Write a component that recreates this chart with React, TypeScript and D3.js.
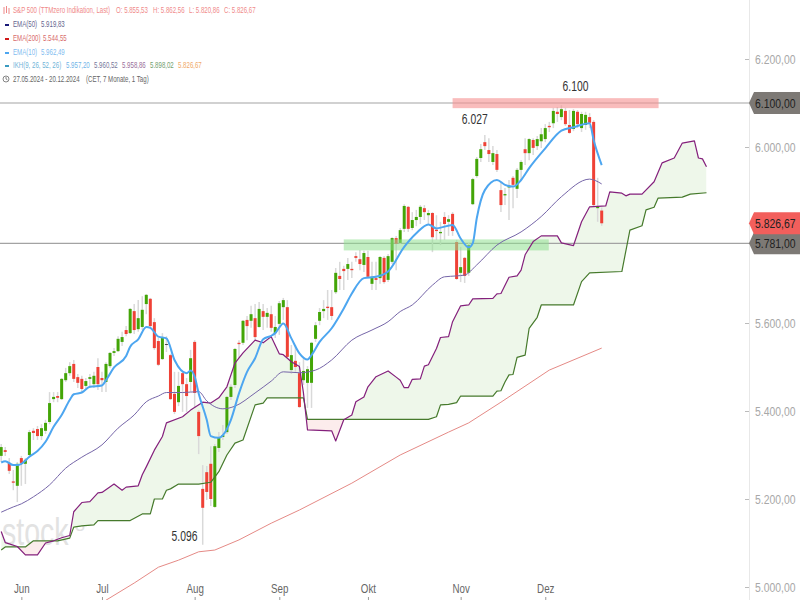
import { useEffect, useRef } from 'react';
import * as d3 from 'd3';

const opens = [5298,5311,5282,5240,5230,5293,5280,5300,5355,5359,5343,5355,5375,5427,5434,5427,5470,5486,5507,5477,5473,5457,5473,5461,5500,5475,5466,5502,5532,5536,5557,5584,5577,5627,5586,5591,5643,5655,5602,5559,5518,5552,5527,5439,5420,5486,5461,5466,5557,5398,5223,5261,5280,5182,5316,5341,5352,5432,5459,5555,5555,5607,5605,5611,5591,5627,5614,5620,5577,5598,5636,5636,5493,5514,5486,5470,5464,5464,5564,5605,5627,5637,5636,5670,5707,5723,5723,5723,5752,5745,5732,5750,5689,5702,5702,5748,5698,5739,5793,5782,5814,5864,5816,5834,5841,5861,5845,5850,5812,5804,5841,5830,5848,5784,5714,5748,5714,5870,5934,5975,6011,5993,5966,5984,5902,5890,5908,5930,5905,5948,5995,5986,6016,6002,6013,6018,6048,6054,6080,6068,6082,6050,6041,6080,6043,6050,6068,6057,5861,5855.53];
const closes = [5318,5307,5264,5237,5280,5282,5289,5352,5350,5343,5361,5373,5418,5432,5430,5473,5486,5502,5473,5464,5450,5468,5477,5480,5461,5470,5507,5532,5536,5564,5568,5575,5632,5584,5611,5630,5664,5593,5543,5505,5566,5550,5427,5398,5457,5461,5434,5520,5441,5343,5180,5216,5200,5320,5339,5345,5432,5455,5541,5552,5605,5593,5620,5568,5632,5614,5623,5589,5591,5645,5652,5523,5527,5500,5409,5491,5495,5555,5595,5625,5632,5634,5616,5714,5700,5718,5734,5720,5748,5734,5759,5705,5705,5698,5750,5693,5752,5793,5780,5811,5866,5814,5834,5841,5864,5852,5850,5795,5809,5807,5825,5836,5809,5700,5727,5707,5777,5927,5973,5995,6002,5984,5986,5948,5868,5893,5911,5914,5948,5966,5986,6018,5998,6018,6029,6043,6045,6082,6075,6086,6052,6032,6082,6052,6075,6073,6055,5868,5864,5826.67];
const highs = [5325,5318,5293,5266,5284,5298,5293,5357,5361,5366,5370,5380,5443,5443,5443,5475,5498,5511,5516,5484,5480,5475,5484,5489,5520,5489,5511,5534,5543,5570,5580,5593,5634,5643,5652,5661,5666,5657,5611,5566,5577,5570,5530,5489,5489,5489,5475,5539,5561,5402,5277,5275,5320,5325,5352,5368,5434,5461,5543,5561,5607,5616,5639,5643,5648,5643,5634,5639,5616,5650,5657,5652,5550,5550,5511,5520,5502,5557,5602,5634,5652,5675,5675,5725,5739,5730,5748,5739,5761,5766,5764,5764,5739,5739,5752,5752,5757,5795,5798,5816,5870,5866,5852,5857,5868,5868,5857,5852,5845,5830,5852,5845,5852,5789,5773,5750,5782,5930,5977,6007,6027,6020,6002,5993,5920,5907,5925,5934,5952,5970,6020,6020,6020,6025,6043,6052,6057,6089,6091,6095,6089,6084,6086,6084,6080,6080,6077,6061,5930,5862.56];
const lows = [5284,5298,5257,5220,5193,5230,5234,5298,5334,5334,5334,5348,5370,5420,5420,5425,5466,5480,5466,5452,5443,5448,5452,5452,5448,5443,5443,5498,5525,5534,5548,5570,5575,5575,5580,5584,5620,5589,5539,5502,5516,5534,5425,5393,5411,5398,5398,5443,5407,5302,5096,5198,5184,5180,5307,5334,5348,5425,5452,5520,5550,5561,5589,5561,5589,5584,5589,5580,5566,5573,5607,5520,5484,5489,5407,5459,5407,5407,5557,5595,5611,5607,5607,5666,5675,5675,5698,5702,5739,5720,5716,5702,5675,5675,5689,5689,5693,5734,5720,5780,5807,5807,5811,5820,5825,5834,5823,5761,5789,5777,5789,5798,5798,5698,5693,5691,5707,5868,5930,5966,5993,5966,5959,5943,5852,5868,5834,5861,5884,5925,5959,5970,5982,5993,5998,6011,6034,6043,6057,6061,6048,6030,6036,6043,6034,6039,6043,5866,5830,5820.86];

const ema10: [number, number][] = [[0,5283],[1,5286],[3,5277],[4,5277],[5,5280],[7,5296],[9,5309],[11,5330],[13,5364],[15,5391],[17,5425],[18,5438],[20,5442],[22,5455],[25,5458],[26,5470],[28,5499],[31,5525],[32,5546],[34,5563],[36,5591],[37,5589],[39,5569],[41,5565],[43,5516],[46,5486],[47,5492],[48,5478],[49,5440],[51,5380],[52,5343],[54,5339],[55,5345],[57,5380],[59,5440],[61,5489],[63,5520],[65,5563],[67,5571],[68,5577],[70,5599],[72,5565],[74,5531],[76,5517],[77,5527],[79,5557],[82,5588],[85,5633],[87,5667],[90,5702],[93,5705],[96,5717],[100,5773],[103,5804],[106,5824],[108,5815],[112,5823],[114,5792],[116,5772],[117,5781],[118,5838],[120,5902],[123,5925],[125,5914],[127,5910],[129,5925],[131,5952],[135,5997],[139,6037],[142,6045],[146,6054],[147,6016],[149,5959]];
const ema50: [number, number][] = [[0,5170],[3,5182],[5,5189],[8,5205],[12,5232],[16,5270],[20,5295],[25,5323],[29,5361],[33,5391],[36,5421],[39,5434],[41,5442],[45,5442],[49,5444],[51,5423],[55,5405],[58,5411],[63,5441],[67,5468],[70,5489],[74,5487],[78,5493],[82,5516],[87,5561],[92,5584],[96,5603],[99,5626],[102,5641],[107,5686],[110,5705],[113,5707],[115,5709],[118,5732],[123,5777],[129,5807],[134,5842],[139,5887],[146,5927],[149,5916]];
const ema200: [number, number][] = [[26,4970],[33,5009],[39,5045],[44,5061],[49,5080],[53,5084],[59,5107],[67,5145],[74,5175],[87,5236],[99,5300],[111,5352],[116,5373],[124,5420],[136,5493],[149,5543]];
const spanA: [number, number][] = [[0,5126],[1,5101],[2,5098],[4,5092],[6,5073],[9,5073],[11,5100],[13,5105],[15,5112],[17,5117],[18,5171],[20,5192],[22,5194],[24,5214],[25,5215],[28,5234],[30,5220],[31,5227],[34,5230],[35,5255],[36,5273],[38,5311],[40,5342],[41,5373],[45,5387],[47,5402],[50,5420],[52,5418],[54,5430],[56,5455],[58,5509],[60,5532],[63,5561],[65,5555],[67,5569],[69,5530],[70,5528],[72,5512],[74,5501],[75,5441],[76,5357],[82,5355],[83,5332],[85,5380],[87,5391],[88,5421],[90,5432],[91,5455],[93,5478],[96,5491],[98,5477],[99,5470],[100,5453],[101,5453],[102,5472],[104,5473],[105,5502],[106,5505],[108,5542],[109,5567],[111,5569],[112,5603],[114,5639],[116,5641],[117,5655],[122,5656],[123,5666],[124,5667],[126,5704],[128,5707],[129,5720],[130,5755],[132,5785],[134,5798],[138,5798],[139,5782],[142,5776],[144,5830],[146,5864],[150,5866],[151,5898],[154,5895],[155,5889],[156,5893],[159,5893],[162,5921],[164,5964],[167,5975],[169,6009],[172,6014],[173,5975],[174,5973],[175,5955]];
const spanB: [number, number][] = [[0,5084],[1,5091],[6,5091],[8,5105],[14,5105],[17,5111],[18,5136],[20,5139],[23,5141],[24,5151],[32,5151],[35,5166],[37,5166],[38,5200],[40,5200],[41,5220],[42,5223],[44,5234],[49,5234],[52,5238],[54,5262],[56,5300],[58,5327],[60,5334],[63,5414],[65,5418],[66,5430],[75,5430],[76,5381],[106,5381],[108,5387],[109,5414],[111,5415],[113,5419],[114,5434],[122,5434],[123,5445],[124,5446],[125,5466],[126,5482],[127,5483],[128,5522],[130,5527],[131,5588],[133,5613],[134,5641],[142,5641],[144,5694],[146,5714],[154,5717],[156,5811],[159,5821],[160,5857],[162,5863],[163,5884],[169,5886],[171,5893],[175,5896]];

const priceTicks = [5000, 5200, 5400, 5600, 6000, 6200];
const monthBars = [5, 25, 48, 69, 91, 114, 135];
const monthLabels = ['Jun', 'Jul', 'Aug', 'Sep', 'Okt', 'Nov', 'Dez'];
const levels = [6100, 5781];
const lastPrice = 5826.67;
const notes: [number, number, string][] = [[142.5, 6127, '6.100'], [117.5, 6052, '6.027'], [45.5, 5104, '5.096']];

const legendRows: [number, number, string, string][] = [
    [13, 13, 'S&P 500 (TTMzero Indikation, Last)', '#f08a8a'],
    [116, 13, 'O: 5.855,53', '#f08a8a'],
    [153, 13, 'H: 5.862,56', '#f08a8a'],
    [189, 13, 'L: 5.820,86', '#f08a8a'],
    [224, 13, 'C: 5.826,67', '#f08a8a'],
    [13, 27, 'EMA(50)', '#66668f'],
    [41, 27, '5.919,83', '#66668f'],
    [13, 41, 'EMA(200)', '#d86c6c'],
    [43, 41, '5.544,55', '#d86c6c'],
    [13, 55, 'EMA(10)', '#7fbcf0'],
    [41, 55, '5.962,49', '#7fbcf0'],
    [13, 68, 'IKH(9, 26, 52, 26)', '#6fb4d8'],
    [66, 68, '5.957,20', '#6fb4e8'],
    [94, 68, '5.960,52', '#77779a'],
    [122, 68, '5.958,86', '#9a6f9a'],
    [150, 68, '5.898,02', '#74a070'],
    [178, 68, '5.826,67', '#f0a868'],
    [13, 82, '27.05.2024 - 20.12.2024', '#666'],
    [86, 82, '(CET, 7 Monate, 1 Tag)', '#666'],
];
const swatches: [number, string][] = [[24, '#1a1a78'], [38, '#d01818'], [52, '#4da6f0'], [65, '#3a9ac0']];

const FONT = '"Liberation Sans", Arial, sans-serif';

// the reference is squeezed sideways, so every text gets narrowed around its own x
const squeeze = (sel, ratio = 0.8) => sel.each(function () {
    const tx = +(this.getAttribute('x') || 0);
    this.setAttribute('transform', `translate(${tx},0) scale(${ratio},1) translate(${-tx},0)`);
});

const App = () => {
    const ref = useRef(null);

    useEffect(() => {
        const svg = d3.select(ref.current);
        svg.selectAll('*').remove();

        const x = d3.scaleLinear().domain([0, 149]).range([1.2, 601.7]);
        const y = d3.scaleLinear().domain([5000, 6200]).range([587, 59]);
        const bars = d3.range(opens.length);

        // watermark
        const mark = svg.append('text').attr('x', 2).attr('y', 545).attr('font-family', FONT)
            .attr('font-size', 38).attr('fill', '#e2e2e2').text('stock');
        squeeze(mark, 0.75);
        svg.append('text').attr('x', 75).attr('y', 531).attr('font-family', FONT)
            .attr('font-size', 18).attr('fill', '#e2e2e2').text('3');

        // cloud
        const below = (line) => d3.area().x(d => x(d[0])).y0(600).y1(d => y(d[1]))(line);
        const above = (line) => d3.area().x(d => x(d[0])).y0(0).y1(d => y(d[1]))(line);
        const defs = svg.append('defs');
        defs.append('clipPath').attr('id', 'over-b').append('path').attr('d', above(spanB));
        defs.append('clipPath').attr('id', 'over-a').append('path').attr('d', above(spanA));
        svg.append('path').attr('d', below(spanA)).attr('fill', '#eef7ea').attr('clip-path', 'url(#over-b)');
        svg.append('path').attr('d', below(spanB)).attr('fill', '#fcecec').attr('clip-path', 'url(#over-a)');

        // right axis line and price levels
        svg.append('line').attr('x1', 749.5).attr('x2', 749.5).attr('y1', 0).attr('y2', 600)
            .attr('stroke', '#e8e8e8');
        svg.append('g').selectAll('line').data(levels).enter().append('line')
            .attr('x1', 0).attr('x2', 750).attr('y1', d => y(d)).attr('y2', d => y(d))
            .attr('stroke', '#a3a3a3').attr('stroke-width', 1.2);

        // candles
        const isDoji = i => Math.abs(opens[i] - closes[i]) < 3;
        const barColor = i => isDoji(i) ? '#333' : closes[i] >= opens[i] ? '#43a507' : '#ef4136';
        svg.append('g').selectAll('line').data(bars).enter().append('line')
            .attr('x1', i => x(i)).attr('x2', i => x(i))
            .attr('y1', i => y(highs[i])).attr('y2', i => y(lows[i]))
            .attr('stroke', '#d9d9d9').attr('stroke-width', 1.5);
        svg.append('g').selectAll('rect').data(bars).enter().append('rect')
            .attr('x', i => x(i) - 1.5).attr('width', 3)
            .attr('y', i => y(Math.max(opens[i], closes[i])))
            .attr('height', i => Math.abs(y(opens[i]) - y(closes[i])))
            .attr('fill', barColor);

        // zones
        svg.append('rect').attr('x', x(112)).attr('width', 206).attr('y', y(6111)).attr('height', 10)
            .attr('fill', '#f58f8f').attr('opacity', 0.6);
        svg.append('rect').attr('x', x(85)).attr('width', 205).attr('y', y(5790)).attr('height', 11)
            .attr('fill', '#8fe08f').attr('opacity', 0.55);

        // lines
        const path = d3.line().x(d => x(d[0])).y(d => y(d[1]));
        const smooth = d3.line().x(d => x(d[0])).y(d => y(d[1])).curve(d3.curveMonotoneX);
        const lines: [string, string, number][] = [
            [path(ema200), '#e58a86', 1],
            [path(spanB), '#467a2c', 1.2],
            [path(spanA), '#84207c', 1.2],
            [smooth(ema50), '#7565a8', 1],
            [smooth(ema10), '#4da6f0', 2],
        ];
        lines.forEach(([d, color, w]) => {
            svg.append('path').attr('d', d).attr('fill', 'none').attr('stroke', color)
                .attr('stroke-width', w).attr('stroke-linejoin', 'round');
        });

        // axes
        const num = d3.formatLocale({ decimal: ',', thousands: '.', grouping: [3], currency: ['', ''] }).format(',.2f');
        const yAxis = svg.append('g').attr('transform', 'translate(749,0)')
            .call(d3.axisRight(y).tickValues(priceTicks).tickFormat(num).tickSize(-4).tickPadding(6));
        yAxis.select('.domain').remove();
        yAxis.selectAll('line').attr('stroke', '#bbb');
        yAxis.selectAll('text').attr('font-family', FONT).attr('font-size', 13).attr('fill', '#a8a8a8');
        squeeze(yAxis.selectAll('text'));

        const xAxis = svg.append('g').attr('transform', 'translate(0,600)')
            .call(d3.axisTop(x).tickValues(monthBars).tickFormat((_, i) => monthLabels[i]).tickSize(3).tickPadding(4));
        xAxis.select('.domain').remove();
        xAxis.selectAll('line').attr('stroke', '#999');
        xAxis.selectAll('text').attr('font-family', FONT).attr('font-size', 13).attr('fill', '#666');
        squeeze(xAxis.selectAll('text'), 0.75);

        // price tags
        const tag = (value, fill) => {
            const g = svg.append('g').attr('transform', `translate(749,${y(value)})`);
            g.append('path').attr('d', 'M0,0 L5,-11 H51 V11 H5 Z').attr('fill', fill);
            squeeze(g.append('text').attr('x', 6).attr('y', 5).attr('font-family', FONT)
                .attr('font-size', 13).attr('fill', '#222').text(num(value)));
        };
        tag(levels[0], '#7d7975');
        tag(levels[1], '#7d7975');
        tag(lastPrice, '#f25f5c');

        // notes
        notes.forEach(([bar, price, label]) => {
            squeeze(svg.append('text').attr('x', x(bar)).attr('y', y(price)).attr('text-anchor', 'middle')
                .attr('font-family', FONT).attr('font-size', 15).attr('fill', '#333').text(label), 0.69);
        });

        // legend
        legendRows.forEach(([lx, ly, label, color]) => {
            squeeze(svg.append('text').attr('x', lx).attr('y', ly).attr('font-family', FONT)
                .attr('font-size', 8.5).attr('fill', color).text(label), 0.72);
        });
        swatches.forEach(([sy, color]) => {
            svg.append('rect').attr('x', 5).attr('y', sy).attr('width', 4).attr('height', 2).attr('fill', color);
        });
        svg.append('path').attr('d', 'M4,7V14M6.5,6V13M9,8V14').attr('stroke', '#e88').attr('fill', 'none');
        svg.append('circle').attr('cx', 6).attr('cy', 79).attr('r', 3).attr('fill', 'none').attr('stroke', '#555').attr('stroke-width', 0.7);
        svg.append('path').attr('d', 'M6,77V79L7.5,80').attr('fill', 'none').attr('stroke', '#555').attr('stroke-width', 0.7);
    }, []);

    return (
        <svg ref={ref} width={800} height={600} style={{ position: 'fixed', left: 0, top: 0, background: '#fff' }} />
    );
};

export default App;
